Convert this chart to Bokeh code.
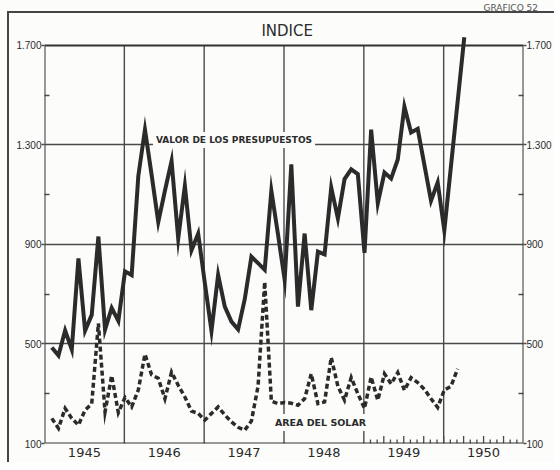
from bokeh.plotting import figure
from bokeh.models import Range1d, FixedTicker, LinearAxis, Label
from bokeh.embed import file_html
from bokeh.resources import INLINE

# ---------------- data ----------------
x_start, x_end = 1945, 1951
y_min, y_max = 100, 1700
y_ticks = [100, 500, 900, 1300, 1700]
y_tick_labels = ["100", "500", "900", "1.300", "1.700"]
y_minor_ticks = [300, 700, 1100, 1500]
year_label_pos = [1945.5, 1946.5, 1947.5, 1948.5, 1949.5, 1950.5]
year_labels = ["1945", "1946", "1947", "1948", "1949", "1950"]
grid_years = [1946, 1947, 1948, 1949, 1950]
inner_grid_values = [500, 900, 1300]

# month index counted from January 1945
solid_month = list(range(1, 61)) + [63]
solid_value = [486, 454, 554, 478, 844, 554, 617, 932, 558, 645,
               593, 792, 777, 1175, 1362, 1180, 990, 1116, 1235, 924,
               1136, 877, 944, 745, 553, 778, 650, 590, 559, 680,
               851, 825, 798, 1116, 940, 758, 1222, 650, 944, 636,
               871, 860, 1129, 1005, 1163, 1202, 1183, 866, 1362, 1066,
               1189, 1165, 1242, 1454, 1350, 1365, 1220, 1076, 1149, 957,
               1733]

dashed_month = list(range(1, 63))
dashed_value = [201, 161, 241, 201, 174, 234, 260, 583, 227, 373,
                224, 285, 247, 315, 459, 376, 362, 280, 387, 334,
                287, 230, 221, 194, 221, 247, 215, 187, 165, 154,
                190, 330, 750, 270, 260, 265, 262, 254, 280, 380,
                260, 267, 446, 330, 274, 365, 300, 241, 367, 274,
                380, 340, 385, 314, 365, 345, 318, 280, 245, 315,
                330, 400]

# monthly marks along the bottom, 1949-1950
scale_months = list(range(49, 72))

def to_year(m):
    return x_start + (m + 0.1) / 12.0

solid_x = [to_year(m) for m in solid_month]
dashed_x = [to_year(m) for m in dashed_month]

# ---------------- style ----------------
BG = "#fcfcfa"
INK = "#2b2b2b"
GRID = "#4a4a4a"
FRAME_LINE = "#454545"

p = figure(frame_width=479, frame_height=429,
           x_range=Range1d(x_start, x_end), y_range=Range1d(y_min, 1824.6),
           output_backend="svg", toolbar_location=None,
           min_border_left=44, min_border_right=29,
           min_border_top=14, min_border_bottom=19,
           background_fill_color=None, border_fill_color=None,
           title="GRAFICO 52")
p.outline_line_color = None
p.styles = {
    "background-color": BG,
    "background-image": f"linear-gradient({FRAME_LINE},{FRAME_LINE}), linear-gradient({FRAME_LINE},{FRAME_LINE})",
    "background-size": "100% 2px, 2px 100%",
    "background-position": "7px 11px, 7px 11px",
    "background-repeat": "no-repeat",
}

p.title.align = "left"
p.title.offset = 439
p.title.standoff = 0
p.title.vertical_align = "top"
p.title.text_font = "DejaVu Sans"
p.title.text_font_size = "9px"
p.title.text_font_style = "normal"
p.title.text_color = "#555555"

# horizontal grid
p.xgrid.visible = False
p.ygrid.ticker = FixedTicker(ticks=inner_grid_values)
p.ygrid.grid_line_color = GRID
p.ygrid.grid_line_width = 1.4

# vertical grid (year boundaries)
p.segment(x0=grid_years, y0=[y_min] * len(grid_years),
          x1=grid_years, y1=[y_max] * len(grid_years),
          line_color=GRID, line_width=1.4)

# monthly scale marks at the bottom
mx = [x_start + m / 12.0 for m in scale_months]
mtop = [y_min + (30 if m % 3 == 0 else 16) for m in scale_months]
p.segment(x0=mx, y0=[y_min] * len(mx), x1=mx, y1=mtop,
          line_color=GRID, line_width=1.3)

# frame
p.quad(left=[x_start], right=[x_end], bottom=[y_min], top=[y_max],
       fill_color=None, line_color="#333333", line_width=2)

# series
p.line(dashed_x, dashed_value, line_color=INK, line_width=3.5,
       line_dash="5 3", line_join="miter")
p.line(solid_x, solid_value, line_color=INK, line_width=4,
       line_join="miter")

# labels
lab_font = "DejaVu Sans"
p.add_layout(Label(x=1947.374, y=1320, text="VALOR DE LOS PRESUPUESTOS",
                   text_align="center", text_baseline="middle",
                   text_font=lab_font, text_font_size="9px", text_font_style="bold",
                   text_color=INK, background_fill_color=BG, padding=3))
p.add_layout(Label(x=1948.457, y=184, text="AREA DEL SOLAR",
                   text_align="center", text_baseline="middle",
                   text_font=lab_font, text_font_size="9.5px", text_font_style="bold",
                   text_color=INK, background_fill_color=BG, padding=3))
p.add_layout(Label(x=1948.04, y=1760, text="INDICE",
                   text_align="center", text_baseline="middle",
                   text_font=lab_font, text_font_size="15px",
                   text_color=INK))

# axes
def style_y(ax):
    ax.ticker = FixedTicker(ticks=y_ticks, minor_ticks=y_minor_ticks)
    ax.major_label_overrides = dict(zip(y_ticks, y_tick_labels))
    ax.axis_line_color = None
    ax.major_tick_out = 3
    ax.major_tick_in = 0
    ax.minor_tick_in = 5
    ax.minor_tick_out = 0
    ax.major_tick_line_color = GRID
    ax.minor_tick_line_color = GRID
    ax.major_tick_line_width = 1.4
    ax.minor_tick_line_width = 1.4
    ax.major_label_standoff = 0
    ax.major_label_text_font = "Liberation Sans"
    ax.major_label_text_font_size = "10px"
    ax.major_label_text_color = INK

style_y(p.yaxis[0])
right_axis = LinearAxis()
p.add_layout(right_axis, "right")
style_y(right_axis)

xa = p.xaxis[0]
xa.ticker = FixedTicker(ticks=year_label_pos)
xa.major_label_overrides = dict(zip(year_label_pos, year_labels))
xa.axis_line_color = None
xa.major_tick_line_color = None
xa.minor_tick_line_color = None
xa.major_tick_out = 0
xa.major_tick_in = 0
xa.major_label_standoff = 4
xa.major_label_text_font = "DejaVu Sans"
xa.major_label_text_font_size = "13px"
xa.major_label_text_color = INK

open("out.html", "w").write(file_html(p, INLINE))
